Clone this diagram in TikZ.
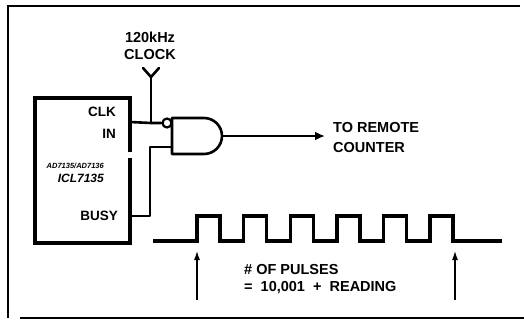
\documentclass[tikz,border=0pt]{standalone}
\usepackage{fontspec}
\setmainfont{Liberation Sans}
\usetikzlibrary{arrows.meta}
\begin{document}
\begin{tikzpicture}[x=1pt,y=-1pt,
  wire/.style={line width=2.6pt,line cap=round,line join=round},
  frame/.style={line width=2.4pt},
  chipbox/.style={line width=3.6pt},
  pulse/.style={line width=3.4pt,line join=miter},
  thin arrow/.style={line width=1.1pt,-{Latex[length=9pt,width=6pt]}},
  lbl/.style={font=\bfseries\fontsize{14.5}{15}\selectfont,inner sep=0pt},
  chiplbl/.style={font=\bfseries\fontsize{13.5}{14}\selectfont,inner sep=0pt,anchor=east}]
\useasboundingbox (0,0) rectangle (524,326);
% outer frame
\draw[frame] (520,6) -- (8,6) -- (8,318);
\draw[frame] (20,318) -- (524,318);
% chip
\draw[chipbox] (130,152) -- (130,98) -- (35,98) -- (35,243) -- (130,243) -- (130,158);
\coordinate (clkpin) at (130,122);
\coordinate (busypin) at (130,216);
\node[chiplbl] (clk) at (116,112) {CLK};
\node[chiplbl] (in) at (116,134) {IN};
\node[font=\bfseries\itshape\fontsize{7.5}{8}\selectfont,inner sep=0pt,anchor=east] (part1) at (104,166) {AD7135/AD7136};
\node[font=\bfseries\itshape\fontsize{12}{13}\selectfont,inner sep=0pt,anchor=east] (part2) at (104,178) {ICL7135};
\node[chiplbl] (busy) at (118,216) {BUSY};
% clock input
\node[lbl] (f) at (150,37) {120kHz};
\node[lbl] (clock) at (150,55) {CLOCK};
\coordinate (ytip) at (151,77);
\coordinate (yl) at (143,68);
\coordinate (yr) at (159,68);
\coordinate (junc) at (151,123);
\draw[wire] (yl) -- (ytip) -- (yr);
\draw[wire] (ytip) -- (junc);
% gate
\coordinate (gA) at (172,118);
\coordinate (gB) at (172,154);
\coordinate (gout) at (222,136);
\draw[wire] (gA) -- (204,118) arc[start angle=-90,end angle=90,radius=18] -- (gB) -- cycle;
\node[circle,draw,line width=2.2pt,minimum size=9pt,inner sep=0pt] (bub) at (167,123) {};
\draw[wire] (clkpin) -- (junc) -- (bub.west);
\coordinate (in2) at (172,147);
\coordinate (bend) at (150,147);
\coordinate (bend2) at (150,216);
\draw[wire] (in2) -- (bend) -- (bend2) -- (busypin);
% output
\node[lbl,anchor=west] (remote) at (333,128) {TO REMOTE};
\node[lbl,anchor=west] (counter) at (333,148) {COUNTER};
\coordinate (aend) at (325,136);
\draw[line width=2.6pt,-{Latex[length=10pt,width=9pt]}] (gout) -- (aend);
% pulse train
\draw[pulse] (153,241) -- (197,241)
  \foreach \k in {0,...,5} { -- ({197+46.6*\k},241) -- ({197+46.6*\k},216) -- ({220+46.6*\k},216) -- ({220+46.6*\k},241) }
  -- (502,241);
\coordinate (a1s) at (197,300);
\coordinate (a1e) at (197,251);
\coordinate (a2s) at (455,300);
\coordinate (a2e) at (455,251);
\draw[thin arrow] (a1s) -- (a1e);
\draw[thin arrow] (a2s) -- (a2e);
\node[lbl,anchor=west] (count1) at (244,270) {\# OF PULSES};
\node[lbl,anchor=west] (count2) at (244,288) {=\ \ 10,001\ \ +\ \ READING};
\end{tikzpicture}
\end{document}
